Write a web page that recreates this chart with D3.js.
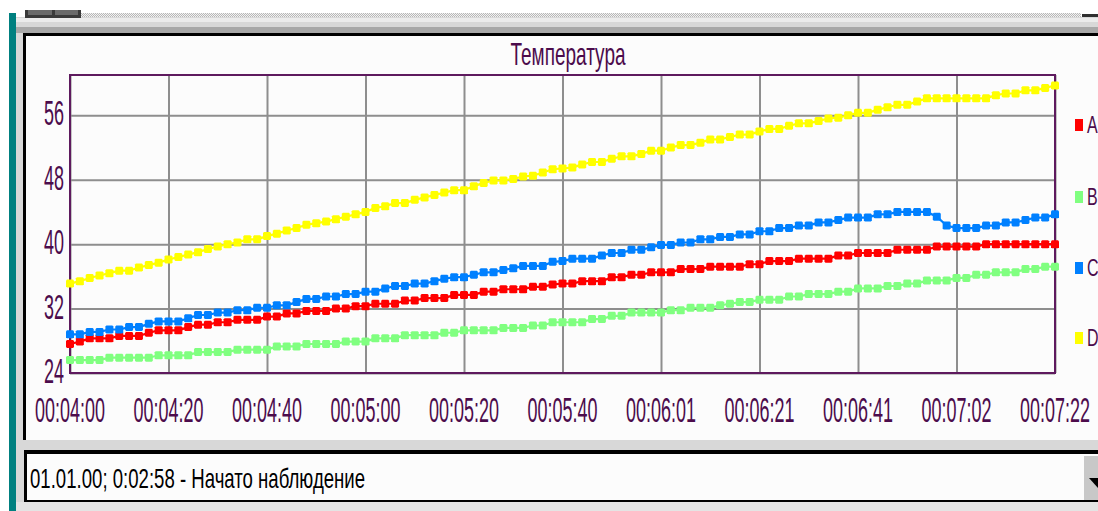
<!DOCTYPE html>
<html>
<head>
<meta charset="utf-8">
<script src="https://cdn.jsdelivr.net/npm/d3@7/dist/d3.min.js"></script>
<style>
  html, body { margin: 0; padding: 0; background: #ffffff; overflow: hidden; }
  svg { display: block; }
</style>
</head>
<body>
<svg id="chart" width="1098" height="511"></svg>
<script>
// Sample times shown on the time axis (one label every 10 samples)
const timeLabels = ["00:04:00", "00:04:20", "00:04:40", "00:05:00", "00:05:20", "00:05:40",
                    "00:06:01", "00:06:21", "00:06:41", "00:07:02", "00:07:22"];
const yTicks = [24, 32, 40, 48, 56];
const seriesNames = ["A", "B", "C", "D"];
const seriesColors = ["#ff0000", "#80ff80", "#0080ff", "#ffff00"];

// Temperature readings, 101 samples per channel
const valuesA = [
  27.6, 27.9, 28.3, 28.3, 28.3, 28.6, 28.6, 28.6, 29.0, 29.3, 29.3, 29.3, 29.7, 30.0, 30.0, 30.3, 30.3, 30.6, 30.6, 30.6, 31.0, 31.0, 31.4, 31.4, 31.7,
  31.7, 31.7, 32.0, 32.0, 32.3, 32.3, 32.6, 32.6, 32.6, 33.0, 33.0, 33.3, 33.3, 33.3, 33.7, 33.7, 33.7, 34.1, 34.1, 34.4, 34.4, 34.4, 34.7, 34.7, 35.0,
  35.1, 35.1, 35.4, 35.4, 35.4, 35.9, 35.9, 36.2, 36.2, 36.5, 36.5, 36.5, 36.9, 36.9, 36.9, 37.2, 37.2, 37.2, 37.2, 37.5, 37.5, 37.9, 37.9, 37.9, 38.2,
  38.2, 38.2, 38.2, 38.6, 38.6, 38.9, 38.9, 38.9, 38.9, 39.3, 39.3, 39.3, 39.3, 39.7, 39.7, 39.7, 39.7, 39.7, 40.0, 40.0, 40.0, 40.0, 40.0, 40.0, 40.0, 40.0
];
const valuesB = [
  25.6, 25.6, 25.6, 25.6, 25.9, 25.9, 25.9, 25.9, 25.9, 26.2, 26.2, 26.2, 26.2, 26.6, 26.6, 26.6, 26.6, 26.9, 26.9, 26.9, 26.9, 27.3, 27.3, 27.3, 27.6,
  27.6, 27.6, 27.6, 27.9, 27.9, 27.9, 28.3, 28.3, 28.3, 28.7, 28.7, 28.7, 28.7, 29.0, 29.0, 29.3, 29.3, 29.3, 29.3, 29.6, 29.6, 29.6, 29.9, 29.9, 30.3,
  30.3, 30.3, 30.3, 30.7, 30.7, 31.1, 31.1, 31.5, 31.5, 31.5, 31.5, 31.8, 31.8, 32.1, 32.1, 32.1, 32.4, 32.6, 32.8, 32.8, 33.1, 33.1, 33.1, 33.5, 33.5,
  33.8, 33.8, 33.8, 34.1, 34.1, 34.5, 34.5, 34.5, 34.8, 34.8, 35.1, 35.1, 35.5, 35.5, 35.5, 35.8, 35.8, 36.2, 36.2, 36.5, 36.5, 36.5, 36.9, 36.9, 37.2, 37.2
];
const valuesC = [
  28.8, 28.8, 29.1, 29.1, 29.4, 29.4, 29.7, 29.7, 30.1, 30.4, 30.4, 30.4, 30.8, 31.2, 31.2, 31.5, 31.5, 31.8, 31.8, 32.1, 32.1, 32.4, 32.4, 32.8, 33.2,
  33.2, 33.5, 33.5, 33.8, 33.8, 34.1, 34.1, 34.5, 34.8, 34.8, 35.1, 35.1, 35.4, 35.7, 35.9, 35.9, 36.2, 36.5, 36.5, 36.8, 37.0, 37.3, 37.3, 37.3, 37.8,
  37.9, 38.2, 38.2, 38.2, 38.6, 38.9, 38.9, 39.3, 39.3, 39.6, 39.9, 39.9, 40.2, 40.2, 40.6, 40.6, 40.9, 40.9, 41.2, 41.2, 41.6, 41.6, 42.0, 42.0, 42.3,
  42.3, 42.7, 42.7, 43.0, 43.3, 43.3, 43.3, 43.7, 43.7, 44.0, 44.0, 44.0, 44.0, 43.4, 42.3, 42.0, 42.0, 42.0, 42.3, 42.3, 42.7, 42.7, 43.0, 43.3, 43.3, 43.7
];
const valuesD = [
  35.1, 35.4, 35.8, 36.1, 36.4, 36.7, 36.7, 37.1, 37.4, 37.7, 38.1, 38.4, 38.7, 39.0, 39.4, 39.7, 40.0, 40.2, 40.6, 40.6, 41.0, 41.3, 41.7, 42.0, 42.4,
  42.6, 42.8, 43.1, 43.4, 43.7, 44.0, 44.5, 44.7, 45.1, 45.1, 45.5, 45.8, 46.1, 46.4, 46.7, 46.7, 47.2, 47.6, 47.9, 47.9, 48.1, 48.4, 48.5, 48.9, 49.3,
  49.4, 49.5, 49.9, 50.2, 50.2, 50.6, 50.9, 50.9, 51.2, 51.6, 51.6, 52.0, 52.3, 52.3, 52.6, 53.0, 53.0, 53.3, 53.6, 53.6, 54.0, 54.3, 54.3, 54.7, 55.0,
  55.0, 55.3, 55.6, 55.7, 56.0, 56.3, 56.3, 56.7, 57.0, 57.3, 57.3, 57.7, 58.1, 58.1, 58.1, 58.1, 58.1, 58.1, 58.1, 58.5, 58.7, 58.7, 59.1, 59.1, 59.4, 59.7
];
const allValues = [valuesA, valuesB, valuesC, valuesD];

const svg = d3.select("#chart");
const textColor = "#4c0c4c";
const frameColor = "#5e1a5e";
const font = "'Liberation Sans', Arial, sans-serif";

// ---- window chrome around the chart ----
const defs = svg.append("defs");
const dither = defs.append("pattern").attr("id", "dither")
  .attr("width", 2).attr("height", 2).attr("patternUnits", "userSpaceOnUse");
dither.append("rect").attr("width", 2).attr("height", 2).attr("fill", "#f2f2f2");
dither.append("rect").attr("width", 1).attr("height", 1).attr("fill", "#b8b8b8");
dither.append("rect").attr("x", 1).attr("y", 1).attr("width", 1).attr("height", 1).attr("fill", "#b8b8b8");

svg.append("rect").attr("width", 1098).attr("height", 511).attr("fill", "#ffffff");
svg.append("rect").attr("x", 16).attr("y", 17).attr("width", 1082).attr("height", 494).attr("fill", "#d8d8d8");
svg.append("rect").attr("x", 16).attr("y", 18).attr("width", 1082).attr("height", 4).attr("fill", "#ececec");
svg.append("rect").attr("x", 16).attr("y", 27).attr("width", 1082).attr("height", 6).attr("fill", "#a8a8a8");
svg.append("rect").attr("x", 81).attr("y", 13).attr("width", 1000).attr("height", 4).attr("fill", "url(#dither)");
svg.append("rect").attr("x", 25).attr("y", 10).attr("width", 56).attr("height", 8).attr("fill", "#3a3a3a");
svg.append("rect").attr("x", 28).attr("y", 10).attr("width", 24).attr("height", 5).attr("fill", "#6a6a6a");
svg.append("rect").attr("x", 55).attr("y", 10).attr("width", 23).attr("height", 5).attr("fill", "#6a6a6a");
svg.append("rect").attr("x", 1082).attr("y", 14).attr("width", 16).attr("height", 3).attr("fill", "#303030");
svg.append("rect").attr("x", 9).attr("y", 13).attr("width", 7).attr("height", 498).attr("fill", "#008080");

// chart panel (sunken)
svg.append("rect").attr("x", 23).attr("y", 33).attr("width", 1075).attr("height", 407).attr("fill", "#000000");
svg.append("rect").attr("x", 26).attr("y", 36).attr("width", 1072).attr("height", 404).attr("fill", "#fcfcfc");

// status combo box
svg.append("rect").attr("x", 24).attr("y", 450).attr("width", 1074).attr("height", 52).attr("fill", "#000000");
svg.append("rect").attr("x", 27).attr("y", 454).attr("width", 1071).attr("height", 46).attr("fill", "#fcfcfc");
svg.append("rect").attr("x", 1084).attr("y", 456).attr("width", 14).attr("height", 44).attr("fill", "#c8c8c8");
svg.append("path").attr("d", "M1089,478 L1098,478 L1098,488 Z").attr("fill", "#000000");
svg.append("rect").attr("x", 16).attr("y", 502).attr("width", 1082).attr("height", 9).attr("fill", "#e4e4e4");

function stretchedText(parent, x, y, str, size, sy, anchor, color) {
  // glyphs are drawn tall and narrow: scale vertically around the baseline
  parent.append("text")
    .attr("transform", `translate(${x},${y}) scale(1,${sy})`)
    .attr("text-anchor", anchor)
    .attr("font-family", font)
    .attr("font-size", size)
    .attr("fill", color)
    .text(str);
}

stretchedText(svg, 30, 488, "01.01.00; 0:02:58 - Начато наблюдение", 18.6, 1.5, "start", "#000000");

// ---- plot ----
const plot = { left: 70, right: 1055, top: 75, bottom: 373 };
const n = valuesA.length;
const x = d3.scaleLinear().domain([0, n - 1]).range([plot.left, plot.right]);
const y = d3.scaleLinear().domain([24, 61]).range([plot.bottom, plot.top]);
const tickIdx = timeLabels.map((_, i) => i * 10);

// grid
const gx = svg.append("g").attr("transform", `translate(0,${plot.bottom})`)
  .call(d3.axisBottom(x).tickValues(tickIdx).tickSize(-(plot.bottom - plot.top)).tickFormat(""));
gx.select(".domain").remove();
gx.selectAll("line").attr("stroke", "#8e8e8e").attr("stroke-width", 2);

const gy = svg.append("g").attr("transform", `translate(${plot.left},0)`)
  .call(d3.axisLeft(y).tickValues(yTicks).tickSize(-(plot.right - plot.left)).tickFormat(""));
gy.select(".domain").remove();
gy.selectAll("line").attr("stroke", "#8e8e8e").attr("stroke-width", 2);

// frame
svg.append("rect")
  .attr("x", plot.left).attr("y", plot.top)
  .attr("width", plot.right - plot.left).attr("height", plot.bottom - plot.top)
  .attr("fill", "none").attr("stroke", frameColor).attr("stroke-width", 2);

// tick labels
yTicks.forEach(v => stretchedText(svg, 64, y(v) + 10, String(v), 18, 1.9, "end", textColor));
tickIdx.forEach((xi, i) => stretchedText(svg, x(xi), 422, timeLabels[i], 18, 1.9, "middle", textColor));

// title
stretchedText(svg, 568, 65, "Температура", 19, 1.62, "middle", textColor);

// series
const line = d3.line().x((d, i) => x(i)).y(d => y(d));
const marker = "M-3,-4 L3,-4 L4,-3 L4,3 L3,4 L-3,4 L-4,3 L-4,-3 Z";
allValues.forEach((vals, s) => {
  const g = svg.append("g");
  g.append("path").attr("d", line(vals)).attr("fill", "none")
    .attr("stroke", seriesColors[s]).attr("stroke-width", 2.2);
  g.selectAll("path.pt").data(vals).join("path").attr("class", "pt")
    .attr("d", marker)
    .attr("transform", (d, i) => `translate(${x(i)},${y(d)})`)
    .attr("fill", seriesColors[s]);
});

// legend
const legendY = [125, 197, 268, 338];
seriesNames.forEach((name, s) => {
  svg.append("rect").attr("x", 1075).attr("y", legendY[s] - 6).attr("width", 8).attr("height", 12)
    .attr("fill", seriesColors[s]);
  stretchedText(svg, 1087, legendY[s] + 8, name, 16, 1.45, "start", textColor);
});
</script>
</body>
</html>
